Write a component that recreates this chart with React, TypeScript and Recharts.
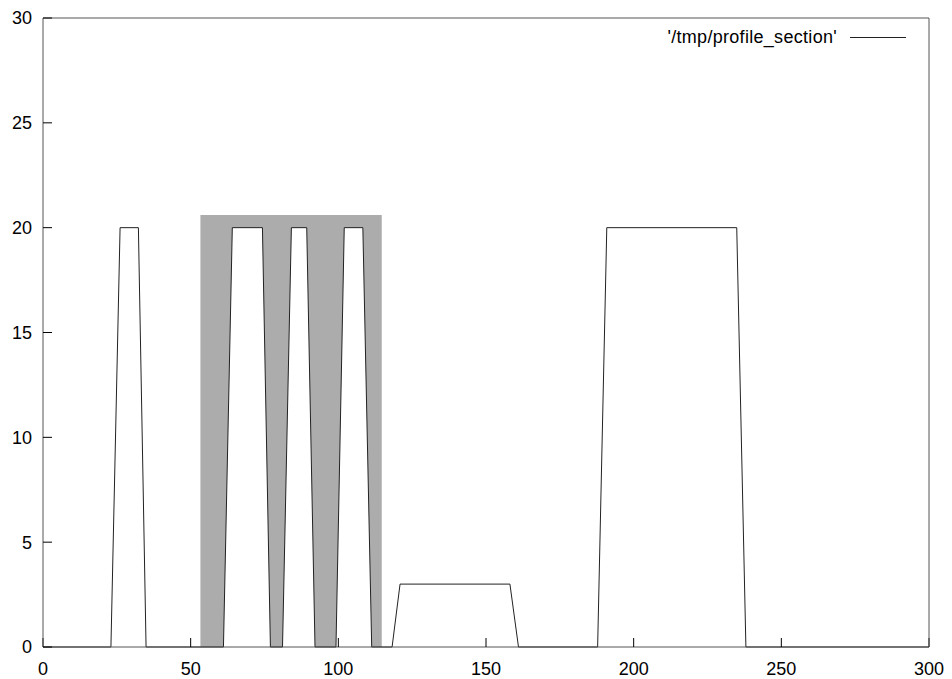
import React from 'react';
import { ComposedChart, Area, Line, XAxis, YAxis, Legend } from 'recharts';

// profile polyline (x, height)
const profileX = [0, 23.0, 26.1, 32.3, 34.9, 61.1, 64.1, 74.3, 77.0, 81.1, 84.1, 89.3, 92.1, 99.2, 102.0, 108.3, 111.3, 118.2, 120.9, 158.1, 161.0, 187.8, 190.9, 234.9, 238.0, 300];
const profileY = [0, 0, 20, 20, 0, 0, 20, 20, 0, 0, 20, 20, 0, 0, 20, 20, 0, 0, 3, 3, 0, 0, 20, 20, 0, 0];

// grey highlighted section
const bandX = [53.3, 114.7];
const bandTop = [20.6, 20.6];

const xTicks = [0, 50, 100, 150, 200, 250, 300];
const yTicks = [0, 5, 10, 15, 20, 25, 30];
const seriesName = "'/tmp/profile_section'";

const profileData = profileX.map((x, i) => ({ x, y: profileY[i] }));
const bandData = bandX.map((x, i) => ({ x, g: bandTop[i] }));

const FONT = "'Liberation Sans', Arial, Helvetica, sans-serif";
const FRAME = '#555555';
const tickStyle = { fontSize: 18, fontFamily: FONT, fill: '#000000' };

const LegendContent = (props: any) => {
  const item = (props.payload || [])[0];
  const label = item ? item.value : seriesName;
  return (
    <div style={{ display: 'flex', justifyContent: 'flex-end', alignItems: 'center', height: 20, fontFamily: FONT, fontSize: 18, color: '#000' }}>
      <span style={{ whiteSpace: 'nowrap', letterSpacing: 0.3 }}>{label}</span>
      <svg width={56} height={20} style={{ marginLeft: 13 }}>
        <line x1={0} y1={10.5} x2={56} y2={10.5} stroke="#222" strokeWidth={1} />
      </svg>
    </div>
  );
};

export default function App() {
  return (
    <div style={{ position: 'absolute', left: 0, top: 0, background: '#fff' }}>
      <ComposedChart width={952} height={679} margin={{ top: 17, right: 22, bottom: 0, left: 0 }}>
        <XAxis
          xAxisId="bottom"
          dataKey="x"
          type="number"
          domain={[0, 300]}
          ticks={xTicks}
          height={32}
          tickSize={-9}
          tickMargin={24}
          tick={tickStyle}
          axisLine={{ stroke: FRAME }}
          tickLine={{ stroke: '#000' }}
          interval={0}
        />
        <XAxis
          xAxisId="top"
          orientation="top"
          dataKey="x"
          type="number"
          domain={[0, 300]}
          ticks={xTicks}
          height={1}
          tickSize={-9}
          tick={false}
          axisLine={{ stroke: FRAME }}
          tickLine={{ stroke: '#000' }}
          interval={0}
        />
        <YAxis
          yAxisId="left"
          type="number"
          domain={[0, 30]}
          ticks={yTicks}
          width={43}
          tickSize={-9}
          tickMargin={20}
          tick={tickStyle}
          axisLine={{ stroke: FRAME }}
          tickLine={{ stroke: '#000' }}
          interval={0}
        />
        <YAxis
          yAxisId="right"
          orientation="right"
          type="number"
          domain={[0, 30]}
          ticks={yTicks}
          width={1}
          tickSize={-9}
          tick={false}
          axisLine={{ stroke: FRAME }}
          tickLine={{ stroke: '#000' }}
          interval={0}
        />
        <Area
          xAxisId="bottom"
          yAxisId="left"
          data={bandData}
          dataKey="g"
          type="linear"
          fill="#acacac"
          fillOpacity={1}
          stroke="none"
          legendType="none"
          isAnimationActive={false}
          dot={false}
          activeDot={false}
        />
        <Area
          xAxisId="bottom"
          yAxisId="left"
          data={profileData}
          dataKey="y"
          name={seriesName}
          type="linear"
          fill="#ffffff"
          fillOpacity={1}
          stroke="#222222"
          strokeWidth={1}
          legendType="line"
          isAnimationActive={false}
          dot={false}
          activeDot={false}
        />
        <Line
          xAxisId="top"
          yAxisId="right"
          data={profileData}
          dataKey="y"
          stroke="none"
          dot={false}
          activeDot={false}
          legendType="none"
          isAnimationActive={false}
        />
        <Legend
          layout="vertical"
          align="center"
          verticalAlign="middle"
          content={LegendContent}
          wrapperStyle={{ position: 'absolute', left: 600, top: 27, width: 306 }}
        />
      </ComposedChart>
    </div>
  );
}
